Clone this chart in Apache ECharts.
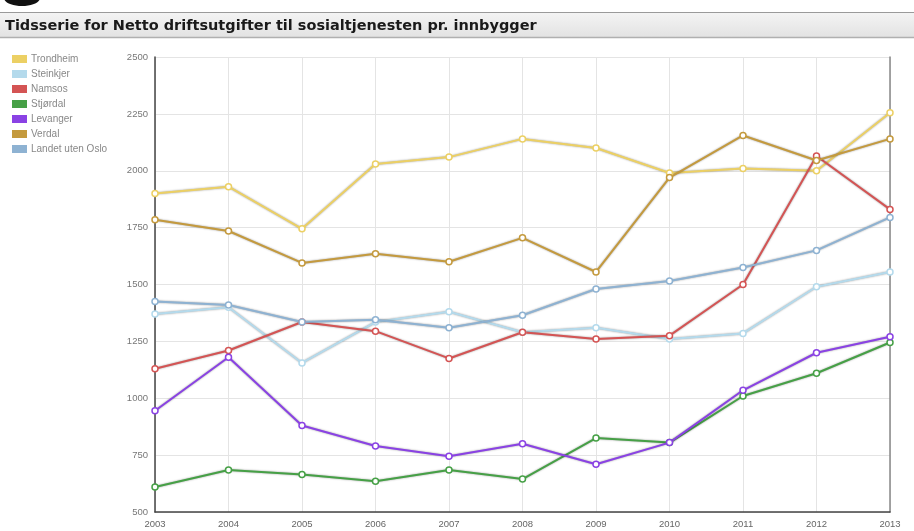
<!DOCTYPE html>
<html>
<head>
<meta charset="utf-8">
<script src="https://cdn.jsdelivr.net/npm/echarts@6/dist/echarts.min.js"></script>
<style>html,body{margin:0;padding:0;background:#fff}#c{width:914px;height:531px}</style>
</head>
<body>
<div id="c"></div>
<script>
const years = ['2003','2004','2005','2006','2007','2008','2009','2010','2011','2012','2013'];
const seriesNames = ['Trondheim','Steinkjer','Namsos','Stjørdal','Levanger','Verdal','Landet uten Oslo'];
const trondheim = [1900,1930,1745,2030,2060,2140,2100,1990,2010,2000,2255];
const steinkjer = [1370,1400,1155,1335,1380,1290,1310,1260,1285,1490,1555];
const namsos = [1130,1210,1335,1295,1175,1290,1260,1275,1500,2065,1830];
const stjordal = [610,685,665,635,685,645,825,805,1010,1110,1245];
const levanger = [945,1180,880,790,745,800,710,805,1035,1200,1270];
const verdal = [1785,1735,1595,1635,1600,1705,1555,1970,2155,2045,2140];
const landet = [1425,1410,1335,1345,1310,1365,1480,1515,1575,1650,1795];
const colors = ['#ecd064','#b4daec','#d45454','#46a046','#8a42e4','#c49a3e','#8eb2d2'];
const yTicks = { min: 500, max: 2500, interval: 250 };
const titleText = 'Tidsserie for Netto driftsutgifter til sosialtjenesten pr. innbygger';

const allData = [trondheim, steinkjer, namsos, stjordal, levanger, verdal, landet];
const chart = echarts.init(document.getElementById('c'));
chart.setOption({
  animation: false,
  textStyle: { fontFamily: 'Liberation Sans, Arial, sans-serif' },
  graphic: [
    { type: 'ellipse', shape: { cx: 22, cy: -2, rx: 18, ry: 8 }, style: { fill: '#111' } },
    { type: 'rect', shape: { x: 0, y: 12, width: 914, height: 26 },
      style: { fill: new echarts.graphic.LinearGradient(0,0,0,1,[{offset:0,color:'#f4f4f4'},{offset:1,color:'#e2e2e2'}]) } },
    { type: 'line', shape: { x1: 0, y1: 12.5, x2: 914, y2: 12.5 }, style: { stroke: '#9a9a9a', lineWidth: 1 } },
    { type: 'line', shape: { x1: 0, y1: 37.5, x2: 914, y2: 37.5 }, style: { stroke: '#b0b0b0', lineWidth: 1.5 } }
  ],
  title: {
    text: titleText, left: 0, top: 14,
    textStyle: { fontSize: 14.5, fontWeight: 'bold', color: '#1a1a1a', fontFamily: 'DejaVu Sans, sans-serif' }
  },
  legend: {
    orient: 'vertical', left: 7, top: 49,
    itemWidth: 15, itemHeight: 8, itemGap: 5,
    icon: 'rect',
    textStyle: { fontSize: 10, color: '#888', padding: [0,0,0,-1] },
    data: seriesNames.map((n, i) => ({ name: n, itemStyle: { color: colors[i], borderWidth: 0 } }))
  },
  grid: { left: 155, right: 24, top: 57, bottom: 19 },
  xAxis: {
    type: 'category', data: years, boundaryGap: false,
    axisLine: { lineStyle: { color: '#444', width: 1.5 } },
    axisTick: { show: false },
    axisLabel: { fontSize: 9.5, color: '#666', margin: 7 },
    splitLine: { show: true, lineStyle: { color: '#e4e4e4' } }
  },
  yAxis: [{
    type: 'value', min: yTicks.min, max: yTicks.max, interval: yTicks.interval,
    axisLine: { show: true, lineStyle: { color: '#444', width: 1.5 } },
    axisTick: { show: false },
    axisLabel: { fontSize: 9.5, color: '#777', margin: 7, formatter: v => String(v) },
    splitLine: { lineStyle: { color: '#e4e4e4' } }
  }, {
    type: 'value', min: yTicks.min, max: yTicks.max, interval: yTicks.interval, position: 'right',
    axisLine: { show: true, lineStyle: { color: '#888', width: 1.5 } },
    axisTick: { show: false }, axisLabel: { show: false }, splitLine: { show: false }
  }],
  series: seriesNames.map((n, i) => ({
    name: n, type: 'line', data: allData[i],
    color: colors[i],
    symbol: 'circle', symbolSize: 6,
    lineStyle: { width: 2, color: colors[i], shadowColor: 'rgba(0,0,0,0.4)', shadowBlur: 2 },
    itemStyle: { color: '#fff', borderColor: colors[i], borderWidth: 1.5 }
  }))
});
</script>
</body>
</html>
